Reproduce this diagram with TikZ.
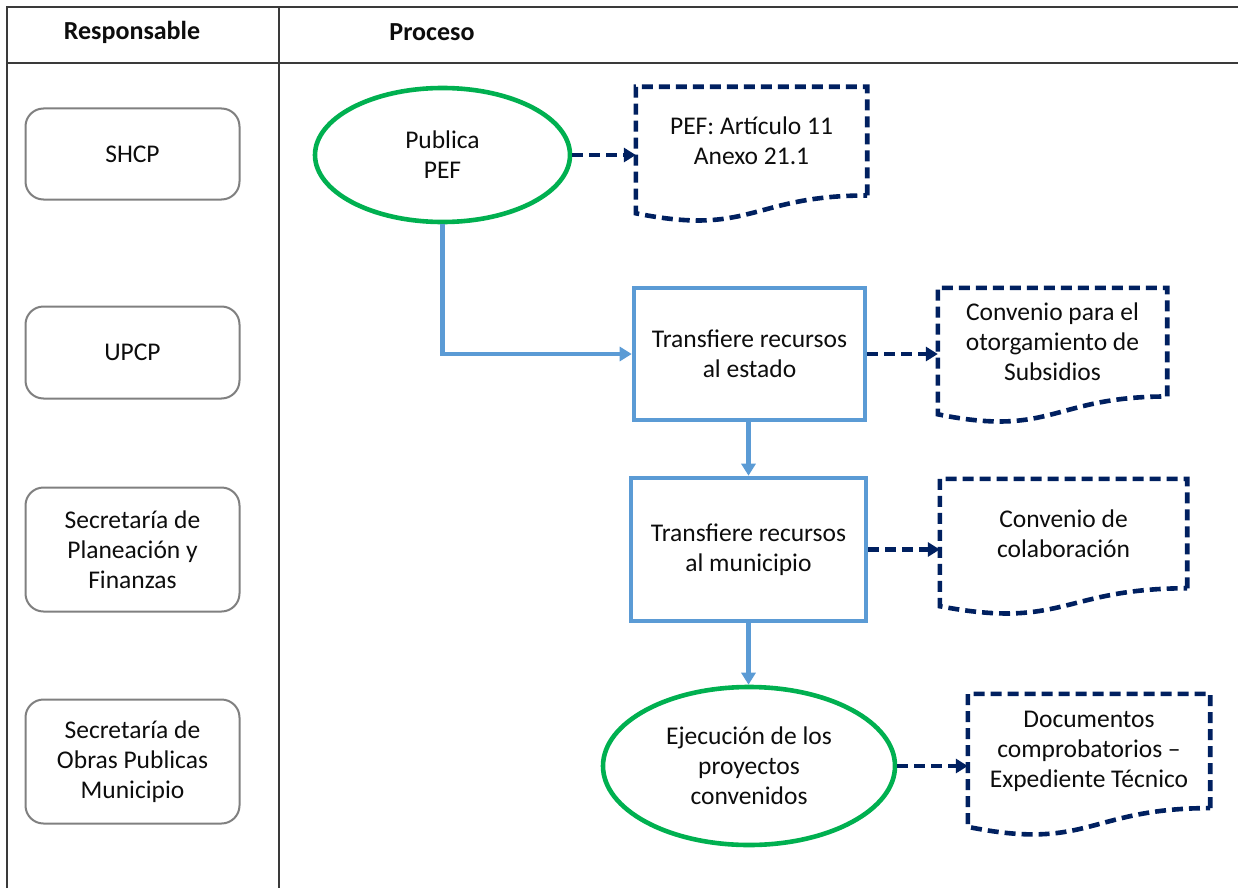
\documentclass[tikz,border=0pt]{standalone}
\usepackage{fontspec}
\setmainfont{Carlito}
\usetikzlibrary{arrows.meta,shapes.geometric,calc}
\definecolor{grn}{HTML}{00B050}
\definecolor{blu}{HTML}{5B9BD5}
\definecolor{nav}{HTML}{002060}
\definecolor{tbl}{HTML}{3A3A3A}
\definecolor{gbox}{HTML}{808080}
\definecolor{txt}{HTML}{0D0D0D}
\newcommand{\docshape}[6]{%
  \node[docnode, minimum width={#4-#2}, minimum height={0.802*#5}] (#1) at ({(#2+#4)/2},{#3+0.401*#5}) {#6};
  \draw[docline] (#1.south east) -- (#1.north east) -- (#1.north west) -- ($(#1.south west)+(0,{0.132*#5})$) .. controls ($(#1.south)+(0,{0.3055*#5})$) and (#1.south) .. (#1.south east);
}
\begin{document}
\begin{tikzpicture}[x=1pt,y=-1pt,
  every node/.style={font=\fontsize{25.5}{30}\selectfont, align=center, text=txt, inner sep=0pt},
  hdr/.style={font=\fontsize{26}{30}\selectfont\bfseries},
  resp/.style={draw=gbox, line width=2pt, rounded corners=18pt, minimum width=214pt},
  ovalnode/.style={ellipse, draw=grn, line width=4.6pt},
  procbox/.style={rectangle, draw=blu, line width=4.6pt},
  docnode/.style={rectangle, draw=none},
  docline/.style={draw=nav, line width=4.6pt, dash pattern=on 11pt off 6pt, line join=miter},
  flow/.style={draw=blu, line width=4.2pt, -{Triangle[length=12pt,width=14pt]}},
  link/.style={draw=nav, line width=4.6pt, dash pattern=on 11pt off 6pt, -{Triangle[length=12pt,width=14pt]}},
  gridline/.style={draw=tbl, line width=2pt}
]
\useasboundingbox (0,0) rectangle (1238,888);
\fill[white] (0,0) rectangle (1238,888);
% table
\draw[gridline] (7.3,888) -- (7.3,7.3) -- (1238,7.3);
\draw[gridline] (7.3,62.7) -- (1238,62.7);
\draw[gridline] (279,7.3) -- (279,888);
\node[hdr] (h1) at (132,32) {Responsable};
\node[hdr] (h2) at (432,32) {Proceso};
% responsables
\node[resp, minimum height=91pt] (r1) at (132.5,154) {SHCP};
\node[resp, minimum height=92pt] (r2) at (132.5,352.5) {UPCP};
\node[resp, minimum height=124pt] (r3) at (132.5,549.5) {Secretaría de\\Planeación y\\Finanzas};
\node[resp, minimum height=124pt] (r4) at (132.5,761.5) {Secretaría de\\Obras Publicas\\Municipio};
% process
\node[ovalnode, minimum width=255pt, minimum height=134pt] (e1) at (442.5,155) {Publica\\PEF};
\node[procbox, minimum width=231pt, minimum height=132pt] (p1) at (749.5,354) {Transfiere recursos\\al estado};
\node[procbox, minimum width=235pt, minimum height=143pt] (p2) at (748.5,549.5) {Transfiere recursos\\al municipio};
\node[ovalnode, minimum width=292pt, minimum height=158pt] (e2) at (749,766) {Ejecución de los\\proyectos\\convenidos};
% documents
\docshape{d1}{636}{87}{867}{135}{PEF: Artículo 11\\Anexo 21.1}
\docshape{d2}{938}{288}{1167}{135}{Convenio para el\\otorgamiento de\\Subsidios}
\docshape{d3}{940}{479}{1187}{136}{Convenio de\\colaboración}
\docshape{d4}{968}{694}{1210}{142}{Documentos\\comprobatorios --\\Expediente Técnico}
% connectors
\draw[flow] (e1.south) |- (p1.west);
\draw[flow] (p1.south -| p2.north) -- (p2.north);
\draw[flow] (p2.south) -- (p2.south |- e2.north);
\draw[link] (e1.east) -- (e1.east -| d1.west);
\draw[link] (p1.east) -- (p1.east -| d2.west);
\draw[link] (p2.east) -- (p2.east -| d3.west);
\draw[link] (e2.east) -- (e2.east -| d4.west);
\end{tikzpicture}
\end{document}
